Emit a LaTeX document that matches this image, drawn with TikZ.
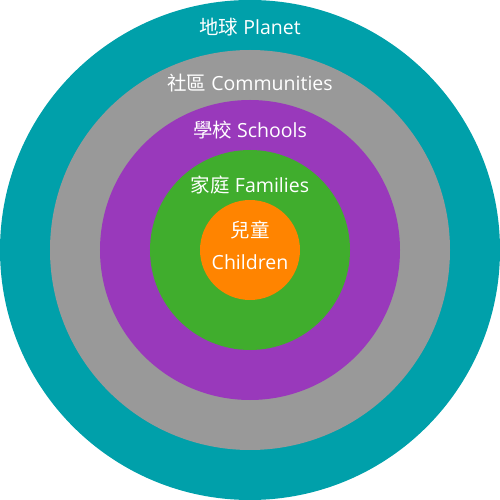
\documentclass[tikz,border=0pt]{standalone}
\usepackage{fontspec}
\setmainfont{Open Sans}
\newfontfamily\cjk{Noto Sans CJK TC}
\definecolor{planetcol}{RGB}{0,160,170}
\definecolor{commcol}{RGB}{153,153,153}
\definecolor{schoolcol}{RGB}{153,57,187}
\definecolor{familycol}{RGB}{64,173,45}
\definecolor{childcol}{RGB}{255,132,0}
\tikzset{ring/.style={circle, inner sep=0, outer sep=0, draw=none},
  lbl/.style={text=white, font=\fontsize{19.5}{22}\selectfont, inner sep=0}}
\begin{document}
\begin{tikzpicture}[x=1pt,y=1pt]
\useasboundingbox (-250,-250) rectangle (250,250);
\node[ring, minimum size=500pt, fill=planetcol] (rplanet) at (0,0){};
\node[ring, minimum size=400pt, fill=commcol] (rcomm) at (0,0){};
\node[ring, minimum size=300pt, fill=schoolcol] (rschool) at (0,0){};
\node[ring, minimum size=200pt, fill=familycol] (rfamily) at (0,0){};
\node[ring, minimum size=100pt, fill=childcol] (rchild) at (0,0){};
\node[lbl] (tplanet) at (0,223){{\cjk 地球} Planet};
\node[lbl] (tcomm) at (0,167){{\cjk 社區} Communities};
\node[lbl] (tschool) at (0,120){{\cjk 學校} Schools};
\node[lbl] (tfamily) at (0,65){{\cjk 家庭} Families};
\node[lbl] (tchild) at (0,20){\cjk 兒童};
\node[lbl] (tchilden) at (0,-12){Children};
\end{tikzpicture}
\end{document}
